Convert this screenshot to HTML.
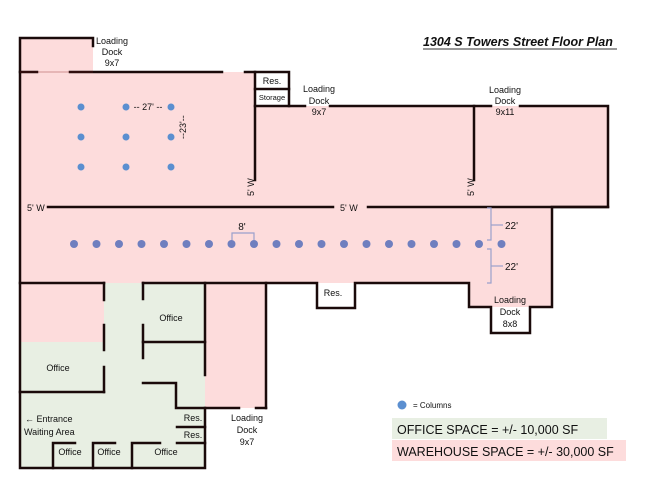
<!DOCTYPE html>
<html><head><meta charset="utf-8"><style>
html,body{margin:0;padding:0;background:#fff;}
svg{display:block;font-family:"Liberation Sans",sans-serif;}
</style></head><body>
<svg width="650" height="502" viewBox="0 0 650 502" xmlns="http://www.w3.org/2000/svg">
<!-- fills -->
<g fill="#fddcdc">
<rect x="20" y="38" width="73" height="34"/>
<rect x="20" y="72" width="235" height="211"/>
<rect x="255" y="106" width="353" height="101"/>
<rect x="255" y="207" width="297" height="76"/>
<rect x="469" y="283" width="83" height="24"/>
<rect x="20" y="283" width="84" height="59"/>
<rect x="205" y="283" width="61" height="125"/>
</g>
<g fill="#e8efe3">
<rect x="104" y="283" width="101" height="59"/>
<rect x="20" y="342" width="185" height="126"/>
<rect x="104" y="283" width="101" height="125"/>
</g>
<g fill="#fff"><rect x="256" y="72" width="33" height="34"/><rect x="318" y="284" width="37" height="24"/></g>
<!-- walls -->
<g stroke="#1a0a0a" stroke-width="2.5" fill="none" stroke-linecap="square">
<polyline points="93,46 93,38 20,38 20,468 205,468 205,408"/>
<line x1="20" y1="72" x2="37" y2="72"/>
<line x1="70" y1="72" x2="222" y2="72"/>
<polyline points="245,72 289,72 289,106"/>
<line x1="255" y1="72" x2="255" y2="180"/>
<line x1="255" y1="89" x2="289" y2="89"/>
<line x1="255" y1="106" x2="305" y2="106"/>
<line x1="330" y1="106" x2="491" y2="106"/>
<polyline points="520,106 608,106 608,207 552,207 552,307 530,307 530,333 491,333 491,307 469,307 469,283 355,283 355,308 317,308 317,283 143,283"/>
<line x1="474" y1="106" x2="474" y2="180"/>
<line x1="48" y1="207" x2="333" y2="207"/>
<line x1="368" y1="207" x2="608" y2="207"/>
<line x1="20" y1="283" x2="104" y2="283"/>
<line x1="104" y1="283" x2="104" y2="300"/>
<line x1="104" y1="325" x2="104" y2="350"/>
<line x1="104" y1="367" x2="104" y2="392"/>
<line x1="20" y1="392" x2="104" y2="392"/>
<line x1="143" y1="283" x2="143" y2="299"/>
<line x1="143" y1="325" x2="143" y2="358"/>
<line x1="143" y1="342" x2="205" y2="342"/>
<line x1="205" y1="283" x2="205" y2="375"/>
<line x1="266" y1="283" x2="266" y2="408"/>
<line x1="256" y1="408" x2="266" y2="408"/>
<polyline points="143,383 176,383 176,408 239,408"/>
<line x1="177" y1="427" x2="205" y2="427"/>
<line x1="177" y1="443" x2="205" y2="443"/>
<polyline points="53,468 53,443 75,443"/>
<polyline points="93,468 93,443 115,443"/>
<polyline points="132,468 132,443 160,443"/>
</g>
<line x1="20" y1="72" x2="93" y2="72" stroke="#8a2020" stroke-width="1" opacity="0.4"/>
<!-- columns -->
<g fill="#5b8fd0">
<circle cx="81" cy="107" r="3.5"/><circle cx="126" cy="107" r="3.5"/><circle cx="171" cy="107" r="3.5"/>
<circle cx="81" cy="137" r="3.5"/><circle cx="126" cy="137" r="3.5"/><circle cx="171" cy="137" r="3.5"/>
<circle cx="81" cy="167" r="3.5"/><circle cx="126" cy="167" r="3.5"/><circle cx="171" cy="167" r="3.5"/>
</g>
<g fill="#6f7fbf">
<circle cx="74" cy="244" r="4"/><circle cx="96.5" cy="244" r="4"/><circle cx="119" cy="244" r="4"/><circle cx="141.5" cy="244" r="4"/><circle cx="164" cy="244" r="4"/><circle cx="186.5" cy="244" r="4"/><circle cx="209" cy="244" r="4"/><circle cx="231.5" cy="244" r="4"/><circle cx="254" cy="244" r="4"/><circle cx="276.5" cy="244" r="4"/><circle cx="299" cy="244" r="4"/><circle cx="321.5" cy="244" r="4"/><circle cx="344" cy="244" r="4"/><circle cx="366.5" cy="244" r="4"/><circle cx="389" cy="244" r="4"/><circle cx="411.5" cy="244" r="4"/><circle cx="434" cy="244" r="4"/><circle cx="456.5" cy="244" r="4"/><circle cx="479" cy="244" r="4"/><circle cx="501.5" cy="244" r="4"/>
</g>
<!-- dimension brackets -->
<g stroke="#9aa0cc" stroke-width="1.2" fill="none">
<polyline points="232,240 232,233 254,233 254,240"/>
<polyline points="487,208 491,208 491,240 487,240"/>
<line x1="491" y1="225" x2="503" y2="225"/>
<polyline points="487,249 491,249 491,283 487,283"/>
<line x1="491" y1="266" x2="503" y2="266"/>
</g>
<!-- legend -->
<rect x="392" y="418" width="215" height="21" fill="#e8efe3"/>
<rect x="392" y="440" width="234" height="21" fill="#fddcdc"/>
<circle cx="402" cy="405" r="4.5" fill="#5b8fd0"/>
<g font-size="9" fill="#111" text-anchor="middle">
<text x="112" y="44">Loading</text><text x="112" y="55">Dock</text><text x="112" y="66">9x7</text>
<text x="319" y="92">Loading</text><text x="319" y="104">Dock</text><text x="319" y="115">9x7</text>
<text x="505" y="93">Loading</text><text x="505" y="104">Dock</text><text x="505" y="115">9x11</text>
<text x="510" y="303">Loading</text><text x="510" y="315">Dock</text><text x="510" y="327">8x8</text>
<text x="247" y="421">Loading</text><text x="247" y="433">Dock</text><text x="247" y="445">9x7</text>
<text x="272" y="84">Res.</text>
<text x="272" y="100" font-size="7.5">Storage</text>
<text x="333" y="296">Res.</text>
<text x="171" y="321">Office</text>
<text x="58" y="371">Office</text>
<text x="70" y="455">Office</text>
<text x="109" y="455">Office</text>
<text x="166" y="455">Office</text>
<text x="193" y="421">Res.</text>
<text x="193" y="438">Res.</text>
<text x="242" y="230" font-size="10">8'</text>
<text x="148" y="110">-- 27' --</text>
</g>
<g font-size="9" fill="#111">
<text x="25" y="422">← Entrance</text>
<text x="24" y="435">Waiting Area</text>
<text x="27" y="211">5' W</text>
<text x="340" y="211">5' W</text>
<text x="505" y="229" font-size="10">22'</text>
<text x="505" y="270" font-size="10">22'</text>
<text x="413" y="408" font-size="8">= Columns</text>
<text transform="translate(254,196) rotate(-90)">5' W</text>
<text transform="translate(474,196) rotate(-90)">5' W</text>
<text transform="translate(186,139) rotate(-90)">--23'--</text>
<text x="397" y="434" font-size="12.5">OFFICE SPACE = +/- 10,000 SF</text>
<text x="397" y="456" font-size="12.5">WAREHOUSE SPACE = +/- 30,000 SF</text>
</g>
<text x="423" y="46" font-size="12.5" font-weight="bold" font-style="italic" fill="#111">1304 S Towers Street Floor Plan</text>
<line x1="423" y1="49" x2="617" y2="49" stroke="#333" stroke-width="1"/>
</svg>
</body></html>
